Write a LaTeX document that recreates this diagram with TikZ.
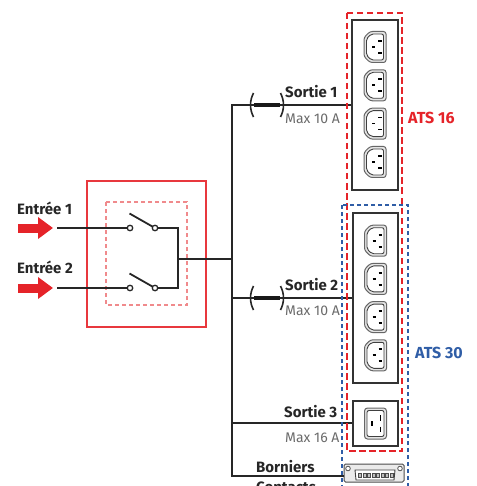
\documentclass[tikz,border=0pt]{standalone}
\usepackage{fontspec}
\setmainfont{Fira Sans}
\usetikzlibrary{arrows.meta, positioning, calc}
\definecolor{atsred}{HTML}{E52329}
\definecolor{atsblue}{HTML}{2F5DA6}
\definecolor{boxred}{HTML}{E8383D}
\definecolor{pinkdash}{HTML}{F08A8C}
\definecolor{maxgray}{HTML}{6B6B6B}
\tikzstyle{wire} = [line width=1.8pt, black!85]
\tikzstyle{contact} = [circle, draw=black!85, fill=white, line width=1.3pt, inner sep=0pt, minimum size=5.5pt]
\tikzstyle{bank} = [rectangle, draw=black!80, line width=2pt, fill=white, minimum width=46pt, inner sep=0pt]
\tikzstyle{title} = [font=\bfseries\fontsize{15}{16}\selectfont, text=black!85, inner sep=0pt, anchor=base west]
\tikzstyle{rating} = [font=\fontsize{14}{15}\selectfont, text=maxgray, inner sep=0pt, anchor=base west]
\tikzstyle{atslabel} = [font=\bfseries\fontsize{16}{17}\selectfont, inner sep=0pt, anchor=base west]
\tikzset{
  cthirteen/.pic={
    \draw [line width=1pt, black!60, fill=black!10, rounded corners=2.5pt]
      (-5,-15.5) -- (11,-15.5) -- (11,15.5) -- (-5,15.5) -- (-11,9.5) -- (-11,-9.5) -- cycle;
    \draw [line width=0.9pt, black!75, fill=white, rounded corners=2pt]
      (-3.8,-13) -- (8.5,-13) -- (8.5,13) -- (-3.8,13) -- (-8.5,8.3) -- (-8.5,-8.3) -- cycle;
    \draw [line width=1.8pt, black] (3,-6) -- (6.5,-6) (-3,0) -- (0,0) (3,6) -- (6.5,6);
  },
  cnineteen/.pic={
    \draw [line width=1pt, black!60, fill=black!10, rounded corners=3pt] (-11,-15.5) rectangle (11,15.5);
    \draw [line width=0.9pt, black!75, fill=white, rounded corners=2pt] (-8.5,-13) rectangle (8.5,13);
    \draw [line width=1.8pt, black] (-3.5,-2.5) -- (-3.5,2.5) (5,-8.5) -- (5,-3) (5,3) -- (5,8.5);
  },
  fuse/.pic={
    \fill [black!90] (-12.8,-2.4) rectangle (12.8,2.4);
    \draw [line width=1.6pt, black!85] (-13.5,-12) .. controls (-17.5,-4) and (-17.5,4) .. (-13.5,12);
    \draw [line width=1.6pt, black!85] (13.5,-12) .. controls (17.5,-4) and (17.5,4) .. (13.5,12);
  },
  terminal/.pic={
    \draw [black!70, line width=0.8pt, fill=white] (-26,-4.5) circle (2.3pt) (26,-4.5) circle (2.3pt);
    \draw [black!75, line width=0.9pt, fill=white] (-19,-3) -- (21,-3) -- (20,7) -- (-18,7) -- cycle;
    \foreach \i in {0,...,7}
      \draw [black!70, line width=0.5pt, fill=black!25] (-15.5+\i*4.5,0) rectangle ++(3,4);
  }
}

\begin{document}
\begin{tikzpicture}[x=1pt, y=-1pt]
\useasboundingbox (0,0) rectangle (476,486);

% transfer switch housing
\draw [boxred, line width=1.7pt] (87,181) rectangle (206,327);
\draw [pinkdash, line width=1.1pt, dash pattern=on 4pt off 3pt] (106,202) rectangle (187,305);

% inputs
\node (lblin1) [title] at (17,214) {Entrée 1};
\node (lblin2) [title] at (17,273) {Entrée 2};
\coordinate (arr1) at (18,228);
\coordinate (arrtip1) at (53,228);
\coordinate (arr2) at (18,288);
\coordinate (arrtip2) at (53,288);
\draw [atsred, line width=9pt, -{Triangle[length=15pt, width=21pt]}] (arr1) -- (arrtip1);
\draw [atsred, line width=9pt, -{Triangle[length=15pt, width=21pt]}] (arr2) -- (arrtip2);

\coordinate (in1) at (57,228);
\coordinate (in2) at (57,288);
\coordinate (j1) at (178,228);
\coordinate (j2) at (178,288);
\coordinate (jm) at (178,259);
\coordinate (jbus) at (232,259);
\coordinate (blade1) at (129.5,213.5);
\coordinate (blade2) at (129.5,273.5);

\draw [wire] (in1) -- (130,228);
\draw [wire] (in2) -- (130,288);
\draw [wire] (155,228) -- (j1) -- (j2) -- (155,288);
\draw [wire] (jm) -- (jbus);
\draw [wire] (blade1) -- (155,228);
\draw [wire] (blade2) -- (155,288);
\node (c1l) [contact] at (130,228) {};
\node (c1r) [contact] at (155,228) {};
\node (c2l) [contact] at (130,288) {};
\node (c2r) [contact] at (155,288) {};

% outlet banks
\node (bank1) [bank, minimum height=170pt] at (375,105) {};
\node (bank2) [bank, minimum width=45pt, minimum height=170pt] at (375.5,298) {};
\node (sock3) [bank, minimum width=45pt, minimum height=45pt] at (375.5,423) {};
\node (bornier) [rectangle, draw=black!70, fill=black!8, rounded corners=1.5pt, line width=1pt, minimum width=60pt, minimum height=18pt, inner sep=0pt] at (374,473) {};
\foreach \y in {47,85.3,123.6,162}
  \pic at (375,\y) {cthirteen};
\foreach \y in {240.7,278.9,317.1,355.3}
  \pic at (375.5,\y) {cthirteen};
\pic at (375.5,423.5) {cnineteen};
\pic at (374,473) {terminal};

% distribution bus
\coordinate (bus1) at (232,105);
\coordinate (bus2) at (232,298);
\coordinate (bus3) at (232,423);
\coordinate (bus4) at (232,476);
\draw [wire] (bank1.west) -- (bus1) -- (bus4) -- (bornier.west |- bus4);
\draw [wire] (bus2) -- (bank2.west);
\draw [wire] (bus3) -- (sock3.west);
\pic at (267,105) {fuse};
\pic at (267,298) {fuse};

\node (lblout1) [title] at (285,98) {Sortie 1};
\node (maxout1) [rating] at (285,124) {Max 10 A};
\node (lblout2) [title] at (285,290) {Sortie 2};
\node (maxout2) [rating] at (285,315) {Max 10 A};
\node (lblout3) [title] at (284,417) {Sortie 3};
\node (maxout3) [rating] at (285,442) {Max 16 A};
\node (lblborn) [title] at (256,472) {Borniers};
\node (lblcont) [title] at (256,492) {Contacts};

% ATS groups
\draw [atsred, line width=2.8pt, dash pattern=on 6.5pt off 3.5pt] (347,13) rectangle (402,451);
\draw [atsblue, line width=2.8pt, dash pattern=on 4pt off 3pt] (342,205) rectangle (408,495);
\node (ats16) [atslabel, text=atsred] at (408,124) {ATS 16};
\node (ats30) [atslabel, text=atsblue] at (415,358) {ATS 30};
\end{tikzpicture}
\end{document}
